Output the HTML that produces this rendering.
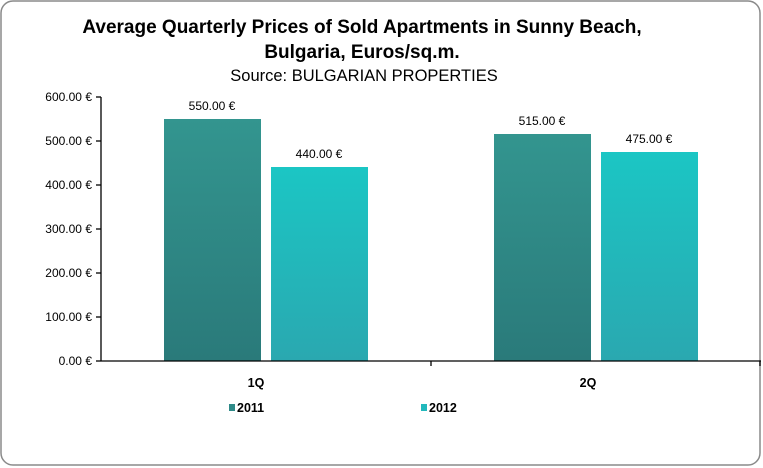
<!DOCTYPE html>
<html><head><style>
html,body{margin:0;padding:0;background:#fff;}
svg{display:block;font-family:"Liberation Sans",sans-serif;}
</style></head><body>
<svg width="763" height="468" viewBox="0 0 763 468">
<defs>
<linearGradient id="g1" x1="0" y1="0" x2="0" y2="1"><stop offset="0" stop-color="#33958f"/><stop offset="1" stop-color="#2a7a7a"/></linearGradient>
<linearGradient id="g2" x1="0" y1="0" x2="0" y2="1"><stop offset="0" stop-color="#1bc6c4"/><stop offset="1" stop-color="#2aa8b0"/></linearGradient>
</defs>
<rect x="1" y="1" width="759" height="464" rx="12" fill="#fff" stroke="#8a8a8a" stroke-width="1.5"/>
<text x="362" y="33" text-anchor="middle" font-size="19" font-weight="bold">Average Quarterly Prices of Sold Apartments in Sunny Beach,</text>
<text x="362" y="58" text-anchor="middle" font-size="19" font-weight="bold">Bulgaria, Euros/sq.m.</text>
<text x="364" y="81" text-anchor="middle" font-size="16.5">Source: BULGARIAN PROPERTIES</text>
<g font-size="12" text-anchor="end">
<text x="92" y="101">600.00 €</text>
<text x="92" y="145">500.00 €</text>
<text x="92" y="189">400.00 €</text>
<text x="92" y="233">300.00 €</text>
<text x="92" y="277">200.00 €</text>
<text x="92" y="321">100.00 €</text>
<text x="92" y="365">0.00 €</text>
</g>
<rect x="164" y="119" width="97" height="242" fill="url(#g1)"/>
<rect x="271" y="167" width="97" height="194" fill="url(#g2)"/>
<rect x="494" y="134" width="97" height="227" fill="url(#g1)"/>
<rect x="601" y="152" width="97" height="209" fill="url(#g2)"/>
<g font-size="12" text-anchor="middle">
<text x="212" y="110">550.00 €</text>
<text x="319" y="158">440.00 €</text>
<text x="542" y="125">515.00 €</text>
<text x="649" y="143">475.00 €</text>
</g>
<g stroke="#000" stroke-width="1.3">
<line x1="101" y1="97" x2="101" y2="361"/>
<line x1="101" y1="361" x2="761" y2="361"/>
<line x1="96" y1="97" x2="101" y2="97"/><line x1="96" y1="141" x2="101" y2="141"/>
<line x1="96" y1="185" x2="101" y2="185"/><line x1="96" y1="229" x2="101" y2="229"/>
<line x1="96" y1="273" x2="101" y2="273"/><line x1="96" y1="317" x2="101" y2="317"/>
<line x1="96" y1="361" x2="101" y2="361"/>
<line x1="431" y1="361" x2="431" y2="366"/><line x1="760" y1="361" x2="760" y2="366"/>
</g>
<g font-size="12.5" font-weight="bold" text-anchor="middle">
<text x="256" y="387">1Q</text>
<text x="588" y="387">2Q</text>
</g>
<rect x="229" y="404" width="6" height="7" fill="#2e8a88"/>
<text x="237" y="412" font-size="12.5" font-weight="bold">2011</text>
<rect x="421" y="404" width="6" height="7" fill="#22b8bc"/>
<text x="429" y="412" font-size="12.5" font-weight="bold">2012</text>
</svg>
</body></html>
